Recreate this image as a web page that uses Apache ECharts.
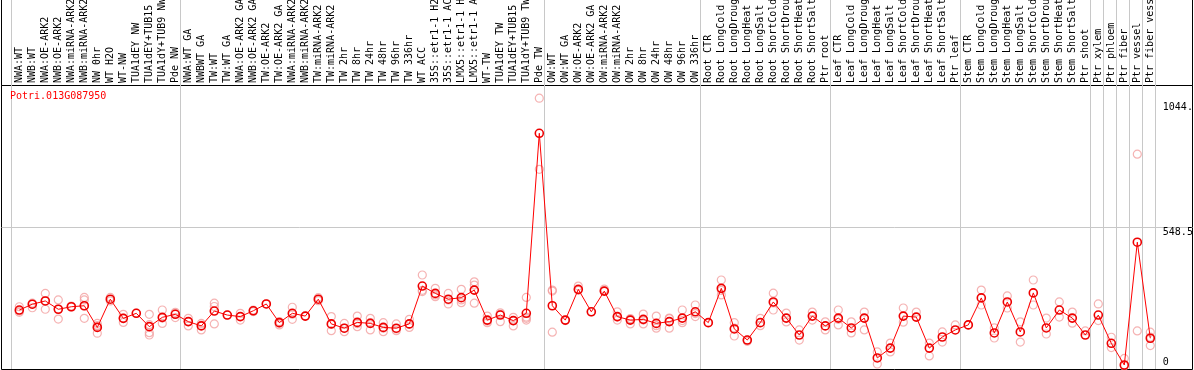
<!DOCTYPE html>
<html>
<head>
<meta charset="utf-8">
<script src="https://cdn.jsdelivr.net/npm/echarts@6/dist/echarts.min.js"></script>
<style>
html, body { margin: 0; padding: 0; background: #fff; }
#expression { width: 1194px; height: 370px; }
</style>
</head>
<body>
<div id="expression"></div>
<script>
var geneName = 'Potri.013G087950';

var categories = [
	'NWA:WT', 'NWB:WT', 'NWA:OE-ARK2', 'NWB:OE-ARK2', 'NWA:miRNA-ARK2', 'NWB:miRNA-ARK2', 'NW 0hr', 'WT H2O', 'WT-NW',
	'TUA1dEY NW', 'TUA1dEY+TUB15 NW', 'TUA1dY+TUB9 NW', 'Pde NW',
	'NWA:WT GA', 'NWBWT GA', 'TW:WT', 'TW:WT GA', 'NWA:OE-ARK2 GA', 'NWB:OE-ARK2 GA', 'TW:OE-ARK2', 'TW:OE-ARK2 GA',
	'NWA:miRNA-ARK2 GA', 'NWB:miRNA-ARK2 GA', 'TW:miRNA-ARK2', 'TW:miRNA-ARK2 GA', 'TW 2hr', 'TW 8hr', 'TW 24hr', 'TW 48hr',
	'TW 96hr', 'TW 336hr', 'WT ACC', '35S::etr1-1 H2O', '35S::etr1-1 ACC', 'LMX5::etr1-1 H2O', 'LMX5::etr1-1 ACC', 'WT-TW',
	'TUA1dEY TW', 'TUA1dEY+TUB15 TW', 'TUA1dY+TUB9 TW', 'Pde TW',
	'OW:WT', 'OW:WT GA', 'OW:OE-ARK2', 'OW:OE-ARK2 GA', 'OW:miRNA-ARK2', 'OW:miRNA-ARK2 GA', 'OW 2hr', 'OW 8hr', 'OW 24hr',
	'OW 48hr', 'OW 96hr', 'OW 336hr',
	'Root CTR', 'Root LongCold', 'Root LongDrought', 'Root LongHeat', 'Root LongSalt', 'Root ShortCold', 'Root ShortDrought',
	'Root ShortHeat', 'Root ShortSalt', 'Ptr root',
	'Leaf CTR', 'Leaf LongCold', 'Leaf LongDrought', 'Leaf LongHeat', 'Leaf LongSalt', 'Leaf ShortCold', 'Leaf ShortDrought',
	'Leaf ShortHeat', 'Leaf ShortSalt', 'Ptr leaf',
	'Stem CTR', 'Stem LongCold', 'Stem LongDrought', 'Stem LongHeat', 'Stem LongSalt', 'Stem ShortCold', 'Stem ShortDrought',
	'Stem ShortHeat', 'Stem ShortSalt', 'Ptr shoot',
	'Ptr xylem', 'Ptr phloem', 'Ptr fiber', 'Ptr vessel', 'Ptr fiber vessel'
];

// mean expression per sample (red line)
var means = [
	222, 245, 258, 225, 235, 239, 153, 265, 189, 209, 156, 193, 205,
	176, 159, 218, 202, 196, 219, 246, 172, 209, 198, 265, 167, 150, 173, 169, 153, 150, 167, 317, 288, 265, 271, 301,
	182, 202, 180, 209, 923,
	239, 182, 304, 215, 297, 196, 182, 185, 169, 176, 190, 215,
	172, 308, 147, 103, 172, 254, 190, 123, 198, 159,
	190, 151, 190, 32, 71, 198, 194, 71, 115, 143,
	163, 270, 131, 254, 135, 290, 151, 222, 190, 123,
	202, 90, 4, 491, 110
];

// replicate values per sample (pink circles)
var replicates = [
	[235, 213, 218], [249, 231, 245], [288, 225, 258], [262, 186, 226], [238, 234], [272, 262, 189, 238],
	[169, 130, 155, 160], [272, 258], [205, 173, 190], [210], [205, 132, 123, 164], [222, 169, 190], [213, 192, 208],
	[189, 159, 176], [169, 143, 162], [249, 236, 167], [202], [209, 182], [222, 216], [246], [176, 163, 170],
	[233, 185, 205], [198], [271, 259], [196, 140, 165], [169, 136, 150], [198, 156, 168], [189, 143, 172],
	[172, 136, 150], [167, 147, 140], [185, 153, 165], [361, 295, 300], [308, 275, 282], [288, 246, 262],
	[304, 251, 262], [334, 321, 249], [198, 172, 178], [211, 176, 205], [193, 159, 180], [272, 189, 182, 194],
	[1062, 780],
	[301, 297, 134], [182, 180], [317, 300], [215], [305, 297], [215, 182, 194], [167, 188, 185], [206, 167, 182],
	[198, 150, 160], [190, 150, 188], [222, 172, 180], [242, 196, 208],
	[172], [341, 282, 300], [172, 119, 150], [103, 98], [189, 160], [289, 222, 250], [210, 175], [143, 103],
	[214, 182], [175, 143],
	[222, 163, 185], [175, 131], [214, 143], [56, 8], [91, 56], [230, 174], [214], [91, 40], [135, 95], [163],
	[163], [301, 242], [151, 111], [278, 230], [175, 95], [341, 242], [190, 127], [254, 194], [214, 170], [139],
	[246, 180], [114, 73], [30, 0], [840, 139], [134, 81, 115]
];

var yTicks = [0, 548.5, 1044];
var yMax = 1097;
// first sample index of each block (gray separators)
var groupStarts = [0, 13, 41, 53, 63, 73, 83, 84, 85, 86, 87];

var mono = 'DejaVu Sans Mono';
var grey = '#c8c8c8';

var repPoints = [];
replicates.forEach(function (list, i) {
	list.forEach(function (v) {
		repPoints.push([i, v]);
	});
});

var dom = document.getElementById('expression');
var myChart = echarts.init(dom);
var option = null;

option = {
	animation: false,
	backgroundColor: '#fff',
	title: {
		text: geneName,
		left: 10,
		top: 91,
		padding: 0,
		textStyle: {
			color: '#ff0000',
			fontSize: 10,
			fontWeight: 'normal',
			fontFamily: mono
		}
	},
	grid: [
		// 0: vertical block separators
		{ left: 11.3, width: 1144, top: 0, bottom: 1, outerBoundsMode: 'none' },
		// 1: sample names
		{ left: 12.8, width: 1144, top: 85, bottom: 1, outerBoundsMode: 'none' },
		// 2: data
		{ left: 12.8, width: 1144, top: 89.4, height: 276.6, outerBoundsMode: 'none' },
		// 3: header frame
		{ left: 1.5, right: 1.5, top: -5, height: 90.5, show: true, borderColor: '#000', borderWidth: 1, backgroundColor: 'transparent', outerBoundsMode: 'none' },
		// 4: plot frame
		{ left: 1.5, right: 1.5, top: 85.5, height: 284, show: true, borderColor: '#000', borderWidth: 1, backgroundColor: 'transparent', outerBoundsMode: 'none' },
		// 5: mid line across the whole width
		{ left: 1.5, right: 1.5, top: 89.4, height: 276.6, outerBoundsMode: 'none' }
	],
	xAxis: [
		{
			gridIndex: 0, type: 'category', data: categories,
			axisLine: { show: false, onZero: false }, axisTick: { show: false }, axisLabel: { show: false },
			splitLine: {
				show: true,
				interval: function (index) { return groupStarts.indexOf(index) >= 0; },
				lineStyle: { color: grey, width: 1 }
			}
		},
		{
			gridIndex: 1, type: 'category', data: categories, position: 'top',
			axisLine: { show: false, onZero: false }, axisTick: { show: false }, splitLine: { show: false },
			axisLabel: { interval: 0, rotate: -90, margin: 2, color: '#000', fontSize: 10, fontFamily: mono }
		},
		{ gridIndex: 2, type: 'category', data: categories, show: false },
		{ gridIndex: 3, type: 'value', show: false },
		{ gridIndex: 4, type: 'value', show: false },
		{ gridIndex: 5, type: 'value', show: false }
	],
	yAxis: [
		{ gridIndex: 0, type: 'value', show: false },
		{ gridIndex: 1, type: 'value', show: false },
		{
			gridIndex: 2, type: 'value', min: 0, max: yMax, position: 'right',
			axisLine: { show: false }, axisTick: { show: false }, splitLine: { show: false },
			axisLabel: {
				customValues: yTicks,
				margin: 6,
				color: '#000',
				fontSize: 10,
				fontFamily: mono,
				formatter: function (v) {
					if (v === 0) return '{b|0}';
					if (v === 1044) return '{t|1044.}';
					return '{t|' + v + '}';
				},
				rich: {
					t: { fontSize: 10, fontFamily: mono, color: '#000', padding: [9, 0, 0, 0] },
					b: { fontSize: 10, fontFamily: mono, color: '#000', padding: [0, 0, 8, 0] }
				}
			}
		},
		{ gridIndex: 3, type: 'value', show: false },
		{ gridIndex: 4, type: 'value', show: false },
		{
			gridIndex: 5, type: 'value', min: 0, max: yMax, interval: yMax / 2,
			axisLine: { show: false }, axisTick: { show: false }, axisLabel: { show: false },
			splitLine: { show: true, showMinLine: false, showMaxLine: false, lineStyle: { color: grey, width: 1 } }
		}
	],
	series: [
		{
			name: 'replicates',
			type: 'scatter',
			xAxisIndex: 2,
			yAxisIndex: 2,
			data: repPoints,
			symbol: 'circle',
			symbolSize: 8,
			itemStyle: { color: 'rgba(0,0,0,0)', borderColor: '#f2a0a0', borderWidth: 1.2 },
			z: 3
		},
		{
			name: 'mean',
			type: 'line',
			xAxisIndex: 2,
			yAxisIndex: 2,
			data: means,
			clip: false,
			symbol: 'circle',
			symbolSize: 8,
			showAllSymbol: true,
			lineStyle: { color: '#ff0000', width: 1 },
			itemStyle: { color: 'rgba(0,0,0,0)', borderColor: '#ee0000', borderWidth: 1.6 },
			z: 4
		}
	]
};
if (option && typeof option === "object") {
	myChart.setOption(option, true);
}
</script>
</body>
</html>
